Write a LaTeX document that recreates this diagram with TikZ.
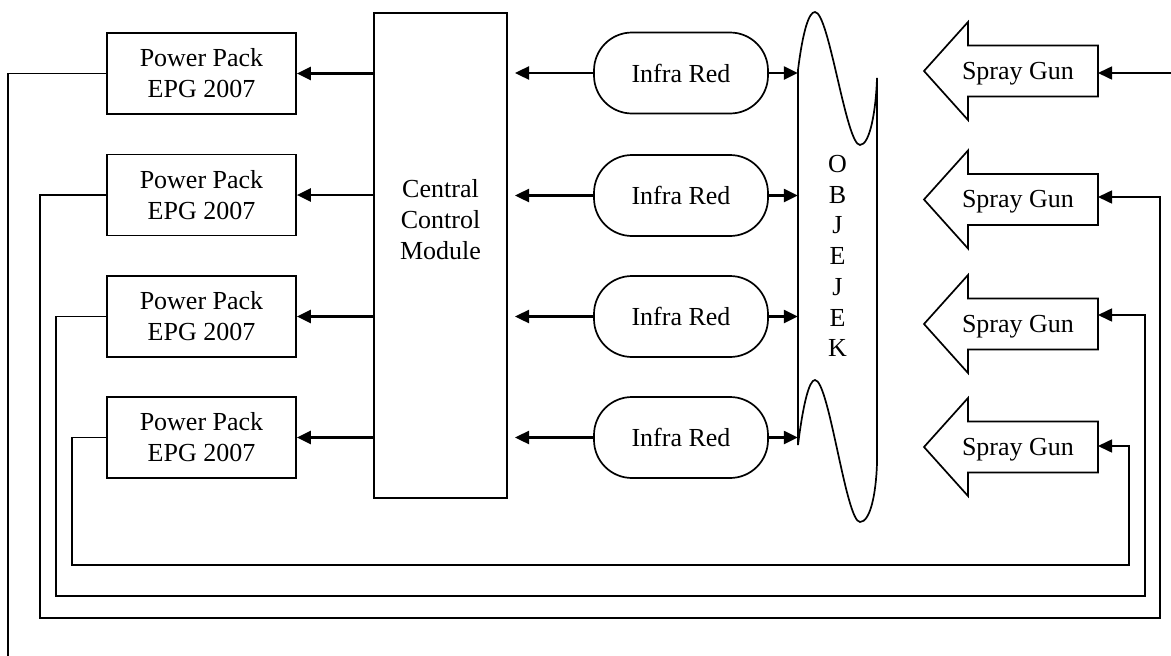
\documentclass[tikz,border=0pt]{standalone}
\usepackage{fontspec}
\setmainfont{Liberation Serif}
\usetikzlibrary{arrows.meta}
\begin{document}
\begin{tikzpicture}[x=1pt,y=-1pt,
  font=\fontsize{26}{31}\selectfont,
  ppbox/.style={draw, line width=1.7pt, minimum width=189pt, minimum height=81pt, align=center, inner sep=0pt},
  irbox/.style={draw, line width=1.7pt, rounded corners=38pt, minimum width=174pt, minimum height=81pt, inner sep=0pt},
  arr/.style={line width=2.4pt, -{Triangle[length=14pt,width=13pt]}},
  fb/.style={line width=1.6pt},
  fbarr/.style={line width=1.6pt, -{Triangle[length=14pt,width=13pt]}},
  outline/.style={line width=1.7pt, line join=miter}]
\useasboundingbox (0,0) rectangle (1171,656);

% Power packs
\foreach \i/\y in {1/73.5,2/195,3/316.5,4/437.5}{
  \node[ppbox] (pp\i) at (201.5,\y) {Power Pack\\EPG 2007};
}

% Central control module
\node[draw, line width=1.7pt, minimum width=133pt, minimum height=485pt, inner sep=0pt] (ccm) at (440.5,255.5) {};
\node[align=center, inner sep=0pt] (ccmtext) at (440.5,220) {Central\\Control\\Module};

% Infra red
\foreach \i/\y in {1/73,2/195.5,3/316.5,4/437.5}{
  \node[irbox] (ir\i) at (681,\y) {Infra Red};
}
\coordinate (lt) at (515,0);

% Object
\draw[outline] (798,70) .. controls (803,30) and (809,12) .. (815,12)
  .. controls (829,12) and (846,145) .. (860,145)
  .. controls (870,145) and (876,110) .. (877,78)
  -- (877,463) .. controls (876,495) and (870,522) .. (860,522)
  .. controls (846,522) and (829,380) .. (815,380)
  .. controls (809,380) and (803,405) .. (798,445) -- cycle;
\node[minimum width=79pt, minimum height=375pt, inner sep=0pt, align=center,
      font=\fontsize{26}{30.7}\selectfont] (obj) at (837.5,256) {O\\B\\J\\E\\J\\E\\K};

% Spray guns
\foreach \i/\y/\a in {1/71/73,2/199.5/197,3/324/315,4/447/446}{
  \draw[outline] (924,\y) -- (968,{\y-49}) -- (968,{\y-25.5}) -- (1098,{\y-25.5})
    -- (1098,{\y+25.5}) -- (968,{\y+25.5}) -- (968,{\y+49}) -- cycle;
  \node (sg\i) at (1018,{\y+2.5}) {Spray Gun};
  \coordinate (g\i) at (1098,\a);
}

% Arrows CCM -> power packs, IR arrows
\foreach \i in {1,...,4}{
  \draw[arr] (pp\i.east -| ccm.west) -- (pp\i.east);
  \draw[arr] (ir\i.west) -- (ir\i.west -| lt);
  \draw[arr] (ir\i.east) -- (ir\i.east -| obj.west);
}

% Feedback lines
\coordinate (e1) at (8,656);
\coordinate (s1) at (1171,73);
\draw[fb] (pp1.west) -| (e1);
\draw[fbarr] (s1) -- (g1);
\draw[fbarr] (pp2.west) -| (40,618) -| (1160,197) -- (g2);
\draw[fbarr] (pp3.west) -| (56,596) -| (1145,315) -- (g3);
\draw[fbarr] (pp4.west) -| (72,565) -| (1129,446) -- (g4);
\end{tikzpicture}
\end{document}
